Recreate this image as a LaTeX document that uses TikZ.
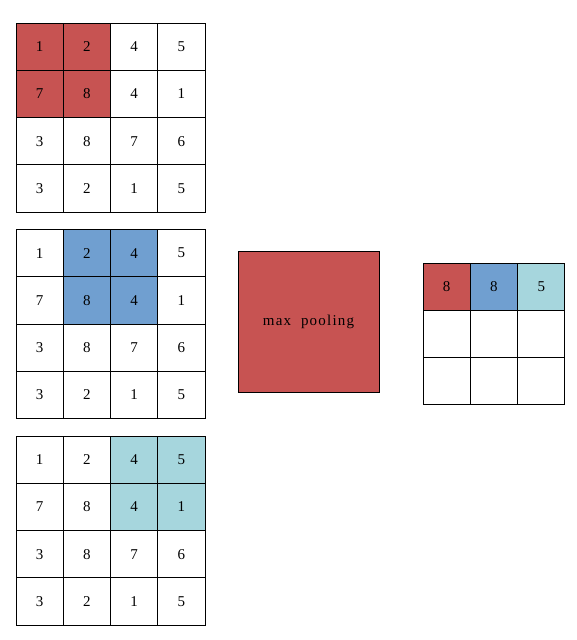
\documentclass[tikz,border=0pt]{standalone}
\usepackage{fontspec}
\setmainfont{Liberation Serif}
\usepackage{tikz}
\definecolor{poolred}{RGB}{199,83,82}
\definecolor{poolblue}{RGB}{112,159,208}
\definecolor{poolteal}{RGB}{166,214,221}
\begin{document}
\begin{tikzpicture}[
  x=1pt, y=-1pt,
  font=\fontsize{15}{17}\selectfont,
  cell/.style={draw, line width=0.8pt, minimum size=47.25pt,
               inner sep=0pt, outer sep=0pt},
  pool/.style={draw, line width=0.8pt, fill=poolred, minimum size=141pt,
               inner sep=0pt},
  % highlighted windows
  hl a00/.style={fill=poolred}, hl a01/.style={fill=poolred},
  hl a10/.style={fill=poolred}, hl a11/.style={fill=poolred},
  hl b01/.style={fill=poolblue}, hl b02/.style={fill=poolblue},
  hl b11/.style={fill=poolblue}, hl b12/.style={fill=poolblue},
  hl c02/.style={fill=poolteal}, hl c03/.style={fill=poolteal},
  hl c12/.style={fill=poolteal}, hl c13/.style={fill=poolteal},
  hl o00/.style={fill=poolred}, hl o01/.style={fill=poolblue},
  hl o02/.style={fill=poolteal}
]
\useasboundingbox (0,0) rectangle (577,640);
% input maps
\foreach \g/\y in {a/23, b/229.5, c/436}
  \foreach \row [count=\r from 0] in {{1,2,4,5},{7,8,4,1},{3,8,7,6},{3,2,1,5}}
    \foreach \v [count=\c from 0] in \row
      \node[cell, hl \g\r\c/.try] (\g\r\c)
        at ({16+47.25*(\c+0.5)}, {\y+47.25*(\r+0.5)}) {\v};
\node[pool] (pool) at (308.5, 322) {\addfontfeature{LetterSpace=8}max~ pooling};
% output map
\foreach \row [count=\r from 0] in {{8,8,5},{{},{},{}},{{},{},{}}}
  \foreach \v [count=\c from 0] in \row
    \node[cell, hl o\r\c/.try] (o\r\c)
      at ({423+47.3*(\c+0.5)}, {263+47.3*(\r+0.5)}) {\v};
\end{tikzpicture}
\end{document}
